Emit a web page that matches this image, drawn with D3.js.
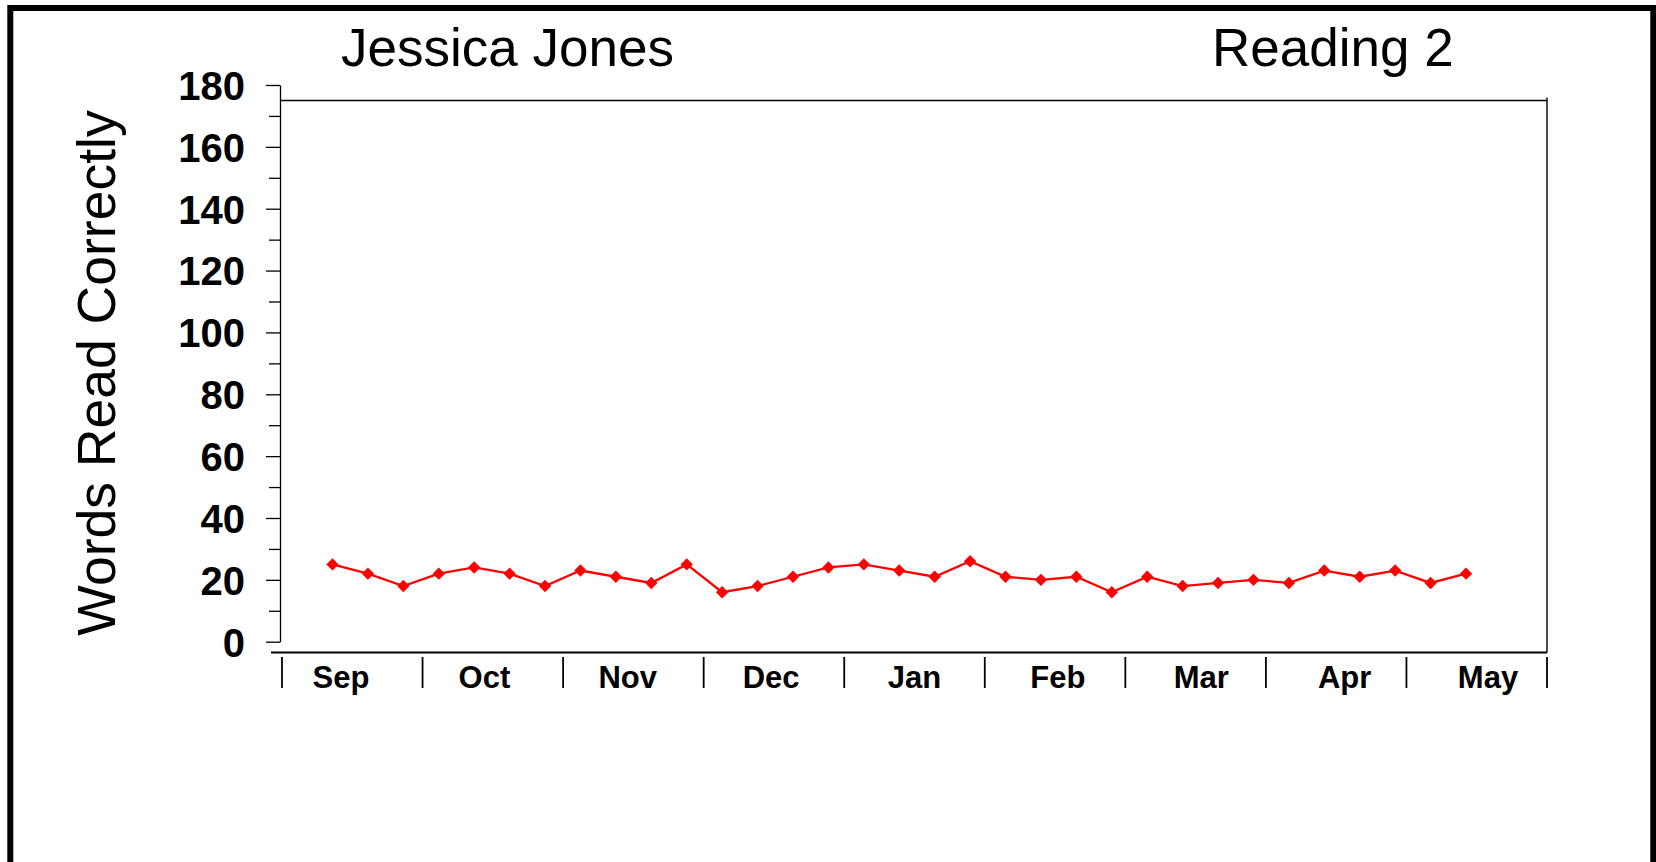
<!DOCTYPE html>
<html>
<head>
<meta charset="utf-8">
<script src="https://cdn.jsdelivr.net/npm/d3@7"></script>
<style>
  html, body { margin: 0; padding: 0; background: #ffffff; }
  svg { display: block; }
</style>
</head>
<body>
<div id="chart"></div>
<script>
// ---- data ----
const studentName = "Jessica Jones";
const chartTitle = "Reading 2";
const yAxisLabel = "Words Read Correctly";
const months = ["Sep", "Oct", "Nov", "Dec", "Jan", "Feb", "Mar", "Apr", "May"];
const wordsReadCorrectly = [25, 22, 18, 22, 24, 22, 18, 23, 21, 19, 25, 16, 18, 21, 24, 25, 23, 21, 26, 21, 20, 21, 16, 21, 18, 19, 20, 19, 23, 21, 23, 19, 22];
const yMajorTicks = [0, 20, 40, 60, 80, 100, 120, 140, 160, 180];
const yMinorTicks = [10, 30, 50, 70, 90, 110, 130, 150, 170];
const yFrameTop = 175;

// ---- layout ----
const W = 1656, H = 862;
const FONT = "'Liberation Sans', Arial, Helvetica, sans-serif";
const axisX = 280;
const plotRight = 1547;
const xAxisY = 652.5;

const svg = d3.select("#chart").append("svg")
  .attr("width", W).attr("height", H)
  .style("background", "#fff");

// outer frame
svg.append("rect")
  .attr("x", 10.3).attr("y", 8)
  .attr("width", 1643).attr("height", 900)
  .attr("fill", "none").attr("stroke", "#000").attr("stroke-width", 6);

// scales
const y = d3.scaleLinear().domain([0, 180]).range([641.7, 85]);
const xMonth = d3.scaleBand().domain(months).range([282, plotRight]);
const xLabel = d3.scalePoint().domain(months).range([341, 1488]);
const xWeek = d3.scaleLinear().domain([0, wordsReadCorrectly.length - 1]).range([332.5, 1466]);

// titles
svg.append("text")
  .attr("x", 341).attr("y", 65.5)
  .attr("font-family", FONT).attr("font-size", 53)
  .attr("fill", "#000")
  .text(studentName);
svg.append("text")
  .attr("x", 1212).attr("y", 65.5)
  .attr("font-family", FONT).attr("font-size", 53)
  .attr("fill", "#000")
  .text(chartTitle);

// y axis label
svg.append("text")
  .attr("transform", "translate(115,373) rotate(-90)")
  .attr("text-anchor", "middle")
  .attr("font-family", FONT).attr("font-size", 53.5)
  .attr("fill", "#000")
  .text(yAxisLabel);

// plot frame: top and right lines
svg.append("line")
  .attr("x1", axisX + 1).attr("x2", plotRight)
  .attr("y1", y(yFrameTop)).attr("y2", y(yFrameTop))
  .attr("stroke", "#000").attr("stroke-width", 1.4);
svg.append("line")
  .attr("x1", plotRight).attr("x2", plotRight)
  .attr("y1", y(yFrameTop) - 3).attr("y2", xAxisY)
  .attr("stroke", "#000").attr("stroke-width", 1.4);

// y axis major
const gY = svg.append("g")
  .attr("transform", `translate(${axisX},0)`)
  .call(d3.axisLeft(y).tickValues(yMajorTicks).tickSize(14).tickSizeOuter(0).tickPadding(21));
gY.select(".domain").attr("stroke", "#000").attr("stroke-width", 1.3);
gY.selectAll(".tick line").attr("stroke", "#000").attr("stroke-width", 1.3);
gY.selectAll(".tick text")
  .attr("font-family", FONT).attr("font-size", 40).attr("font-weight", "bold")
  .attr("fill", "#000").attr("dy", "0.36em");

// y axis minor
const gYm = svg.append("g")
  .attr("transform", `translate(${axisX},0)`)
  .call(d3.axisLeft(y).tickValues(yMinorTicks).tickSize(11).tickSizeOuter(0).tickFormat(""));
gYm.select(".domain").remove();
gYm.selectAll(".tick line").attr("stroke", "#000").attr("stroke-width", 1.3);

// x axis line
svg.append("line")
  .attr("x1", 271).attr("x2", plotRight)
  .attr("y1", xAxisY).attr("y2", xAxisY)
  .attr("stroke", "#000").attr("stroke-width", 2);

// month separators
const boundaries = months.map(m => xMonth(m)).concat([xMonth.range()[1]]);
svg.append("g").selectAll("line")
  .data(boundaries).join("line")
  .attr("x1", d => d).attr("x2", d => d)
  .attr("y1", 657).attr("y2", 688)
  .attr("stroke", "#000").attr("stroke-width", 1.8);

// month labels
svg.append("g").selectAll("text")
  .data(months).join("text")
  .attr("x", d => xLabel(d)).attr("y", 688)
  .attr("text-anchor", "middle")
  .attr("font-family", FONT).attr("font-size", 31).attr("font-weight", "bold")
  .attr("fill", "#000")
  .text(d => d);

// data line
const line = d3.line()
  .x((d, i) => xWeek(i))
  .y(d => y(d));
svg.append("path")
  .datum(wordsReadCorrectly)
  .attr("d", line)
  .attr("fill", "none")
  .attr("stroke", "#ff0000")
  .attr("stroke-width", 2.3);

// diamond markers
const r = 6.2;
svg.append("g").selectAll("path")
  .data(wordsReadCorrectly).join("path")
  .attr("transform", (d, i) => `translate(${xWeek(i)},${y(d)})`)
  .attr("d", `M0,${-r}L${r},0L0,${r}L${-r},0Z`)
  .attr("fill", "#ff0000");
</script>
</body>
</html>
